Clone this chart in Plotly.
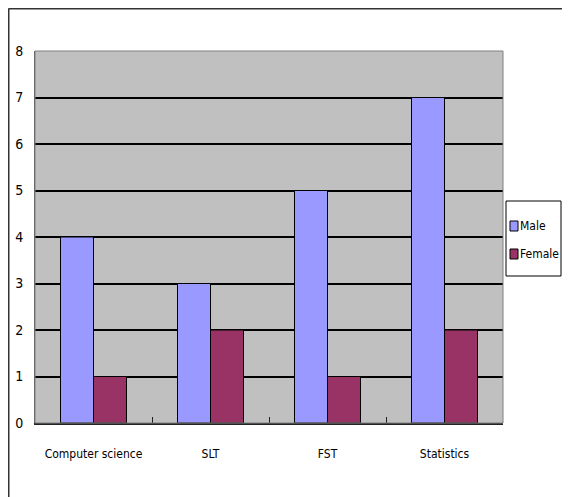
import plotly.graph_objects as go

categories = ["Computer science", "SLT", "FST", "Statistics"]
male = [4, 3, 5, 7]
female = [1, 2, 1, 2]
series_names = ["Male", "Female"]
series_colors = ["#9999FF", "#993366"]

OFF = 8  # page body margin
W, H = 562, 489
L, R, T, B = 27, 67, 43, 74
pw = W - L - R
ph = H - T - B

FAM = "DejaVu Sans Condensed, Liberation Sans, sans-serif"
font = dict(family=FAM, size=12, color="black")

fig = go.Figure()
for name, vals, col in zip(series_names, [male, female], series_colors):
    fig.add_trace(go.Bar(name=name, x=categories, y=vals,
                         marker=dict(color=col, line=dict(color="black", width=1))))

def px_x(p):
    return (p - OFF - L) / pw

def px_y(p):
    return (H - B - (p - OFF)) / ph

shapes = [
    dict(type="rect", xref="paper", yref="paper", x0=0, x1=1, y0=0, y1=1,
         line=dict(color="#808080", width=1), layer="above"),
    # outer chart frame (top and left edges visible)
    dict(type="line", xref="paper", yref="paper",
         x0=px_x(8.5), x1=px_x(575), y0=px_y(8.5), y1=px_y(8.5),
         line=dict(color="#333333", width=2)),
    dict(type="line", xref="paper", yref="paper",
         x0=px_x(8.5), x1=px_x(8.5), y0=px_y(8.5), y1=px_y(505),
         line=dict(color="#333333", width=2)),
    # legend box
    dict(type="rect", xref="paper", yref="paper",
         x0=px_x(506), x1=px_x(561), y0=px_y(276), y1=px_y(201),
         line=dict(color="black", width=1), fillcolor="white"),
]
annotations = []
item_y = [226, 254]
for name, col, yy in zip(series_names, series_colors, item_y):
    shapes.append(dict(type="rect", xref="paper", yref="paper",
                       x0=px_x(510), x1=px_x(518), y0=px_y(yy + 5), y1=px_y(yy - 5),
                       line=dict(color="black", width=1), fillcolor=col))
    annotations.append(dict(text=name, xref="paper", yref="paper",
                            x=px_x(518), y=px_y(yy), xanchor="left", yanchor="middle",
                            showarrow=False, font=dict(family=FAM, size=12, color="black")))

fig.update_layout(
    width=W, height=H,
    margin=dict(l=L, r=R, t=T, b=B, pad=0, autoexpand=False),
    paper_bgcolor="white",
    plot_bgcolor="#C0C0C0",
    barmode="group",
    bargap=0.436,
    bargroupgap=0,
    font=font,
    showlegend=False,
    xaxis=dict(showgrid=False, showline=True, linecolor="#222222", linewidth=2,
               ticks="inside", tickson="boundaries", ticklen=6, tickcolor="#222222",
               tickfont=font, zeroline=False, tickangle=0, ticklabelstandoff=19),
    yaxis=dict(range=[0, 8], dtick=1, showgrid=True, gridcolor="black", gridwidth=1.5,
               showline=True, linecolor="#555555", linewidth=1,
               ticks="inside", ticklen=4, tickcolor="black",
               tickfont=dict(family=FAM, size=14, color="black"),
               zeroline=False, ticklabelstandoff=8),
    shapes=shapes,
    annotations=annotations,
)

fig.write_html("out.html")
